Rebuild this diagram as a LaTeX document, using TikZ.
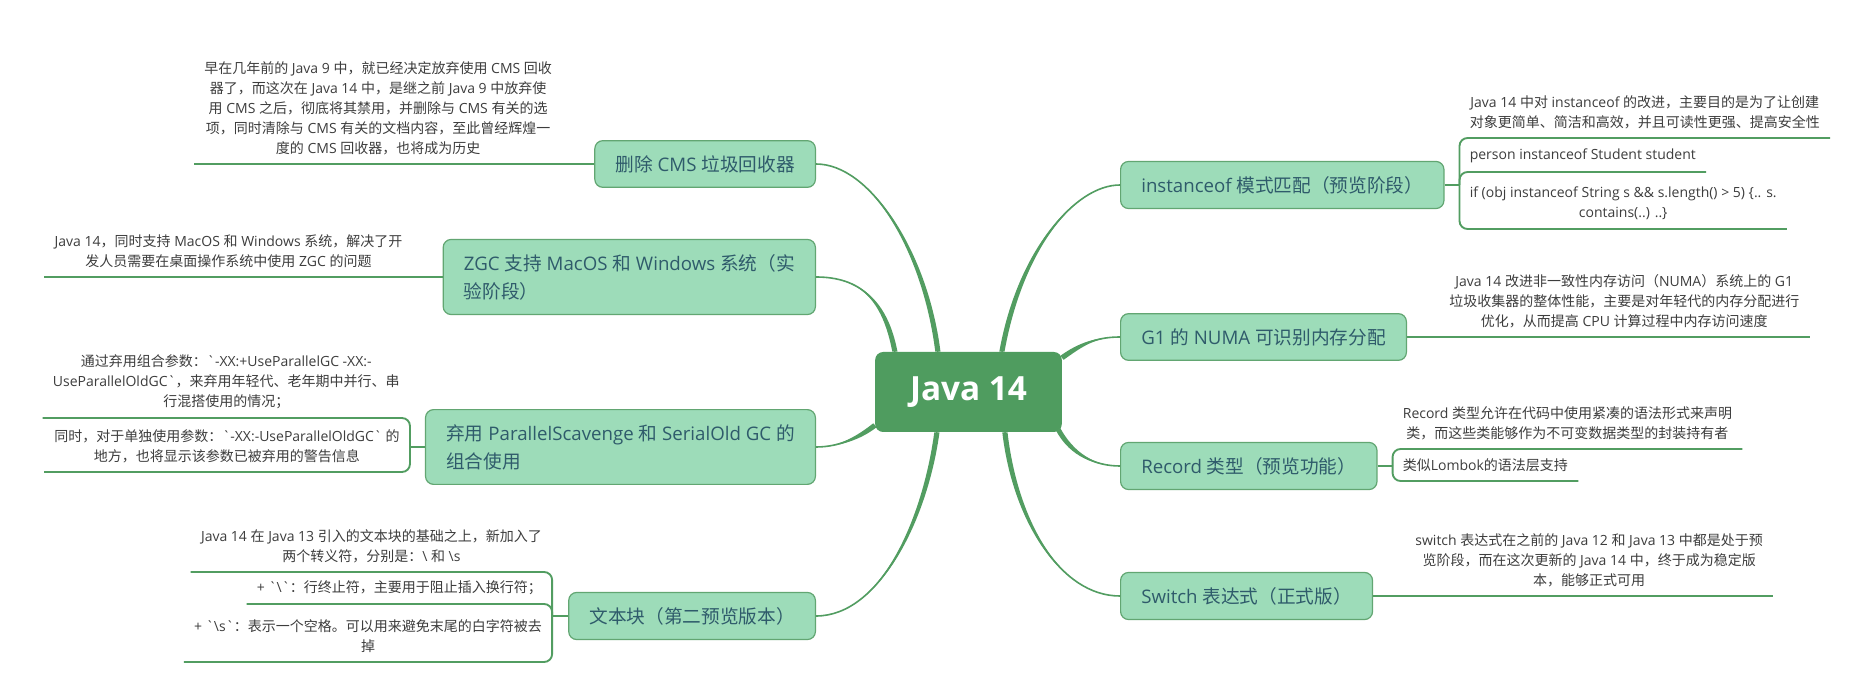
\documentclass[tikz,border=0pt]{standalone}
\usepackage{fontspec}
\setmainfont{Open Sans}
\newfontfamily\cjkfam{Noto Sans CJK SC}
\usetikzlibrary{calc}

% Chinese characters are set in the CJK font, the rest in Open Sans
\XeTeXinterchartokenstate=1
\newXeTeXintercharclass\cjkcls
\newcommand{\setcjkrange}[2]{%
  \count255=#1
  \loop
    \XeTeXcharclass\count255=\cjkcls
    \advance\count255 by 1
  \ifnum\count255<#2 \repeat}
\setcjkrange{"3000}{"3040}
\setcjkrange{"4E00}{"A000}
\setcjkrange{"FF00}{"FFF0}
\XeTeXinterchartoks 0 \cjkcls = {\cjkfam}
\XeTeXinterchartoks 4095 \cjkcls = {\cjkfam}
\XeTeXinterchartoks \cjkcls 0 = {\rmfamily}
\XeTeXinterchartoks \cjkcls 4095 = {\rmfamily}

\definecolor{rootgreen}{HTML}{4F9C5F}
\definecolor{branchgreen}{HTML}{529D61}
\definecolor{topicfill}{HTML}{9DDCB9}
\definecolor{topicline}{HTML}{62A672}
\definecolor{topictext}{HTML}{2F5B6B}
\definecolor{subtext}{HTML}{3D3D3D}

% tapered main branch: start, control 1, control 2, end, half width at start
\newcommand{\branch}[5]{%
  \fill[branch] ($#1-#5$) .. controls ($#2-#5$) and #3 .. #4
    .. controls #3 and ($#2+#5$) .. ($#1+#5$) -- cycle;
  \draw[branch line] ($#1$) .. controls #2 and #3 .. #4;}

\begin{document}
\begin{tikzpicture}[x=0.75pt, y=-0.75pt,
  root/.style = {fill=rootgreen, rounded corners=6pt, text=white,
    minimum width=140pt, minimum height=60pt,
    font=\fontsize{25}{30}\selectfont\bfseries},
  topic/.style = {draw=topicline, fill=topicfill, rounded corners=6pt,
    line width=0.9pt, text=topictext, align=left,
    inner xsep=15.5pt, inner ysep=11pt, font=\fontsize{14}{21}\selectfont},
  sub/.style = {text=subtext, align=center, inner xsep=7.5pt,
    inner ysep=6.5pt, font=\fontsize{10.5}{15}\selectfont},
  sub line/.style = {draw=branchgreen, line width=1.4pt, rounded corners=6pt},
  branch/.style = {fill=branchgreen},
  branch line/.style = {draw=branchgreen, line width=1.2pt}]

  \fill[white] (0,0) rectangle (1861,691);

  \node[root] (root) at (968.5,392) {Java 14};

  % left topics
  \node[topic, anchor=east] (cms) at (816,164) {删除 CMS 垃圾回收器};
  \node[topic, anchor=east] (zgc) at (816,277)
    {ZGC 支持 MacOS 和 Windows 系统（实\\验阶段）};
  \node[topic, anchor=east] (par) at (816,447)
    {弃用 ParallelScavenge 和 SerialOld GC 的\\组合使用};
  \node[topic, anchor=east] (txt) at (816,616) {文本块（第二预览版本）};

  % right topics
  \node[topic, anchor=west] (ins) at (1120,185) {instanceof 模式匹配（预览阶段）};
  \node[topic, anchor=west] (g1) at (1120,337) {G1 的 NUMA 可识别内存分配};
  \node[topic, anchor=west] (rec) at (1120,466) {Record 类型（预览功能）};
  \node[topic, anchor=west] (sw) at (1120,596) {Switch 表达式（正式版）};

  \branch{(root.north west)+(63,0)}{(925,250)}{(870,164)}{(cms.east)}{(2.6,0)}
  \branch{(root.north west)+(20,0)}{(885,300)}{(860,277)}{(zgc.east)}{(2.6,0)}
  \branch{(root.south west)+(0,-7)}{(860,437)}{(840,447)}{(par.east)}{(1.6,2)}
  \branch{(root.south west)+(62,0)}{(925,520)}{(880,616)}{(txt.east)}{(2.6,0)}
  \branch{(root.north west)+(127,0)}{(1020,250)}{(1075,185)}{(ins.west)}{(2.6,0)}
  \branch{(root.north east)+(0,6)}{(1080,345)}{(1095,337)}{(g1.west)}{(1.5,2.1)}
  \branch{(root.south east)+(-4,-3)}{(1072,455)}{(1095,466)}{(rec.west)}{(1.8,-1.8)}
  \branch{(root.south west)+(130,0)}{(1015,520)}{(1060,596)}{(sw.west)}{(2.6,0)}

  % notes on the left
  \node[sub, anchor=south east] (cms1) at ($(cms.west)+(-32,0)$)
    {早在几年前的 Java 9 中，就已经决定放弃使用 CMS 回收\\器了，而这次在 Java 14 中，是继之前 Java 9 中放弃使\\用 CMS 之后，彻底将其禁用，并删除与 CMS 有关的选\\项，同时清除与 CMS 有关的文档内容，至此曾经辉煌一\\度的 CMS 回收器，也将成为历史};
  \draw[sub line] (cms.west) -- (cms1.south west);

  \node[sub, anchor=south east] (zgc1) at ($(zgc.west)+(-30,0)$)
    {Java 14，同时支持 MacOS 和 Windows 系统，解决了开\\发人员需要在桌面操作系统中使用 ZGC 的问题};
  \draw[sub line] (zgc.west) -- (zgc1.south west);

  \coordinate (parj) at ($(par.west)+(-15,0)$);
  \node[sub, anchor=south east] (par1) at ($(parj)+(0,-29)$)
    {通过弃用组合参数：\textasciigrave-XX:+UseParallelGC -XX:-\\UseParallelOldGC\textasciigrave，来弃用年轻代、老年期中并行、串\\行混搭使用的情况；};
  \node[sub, anchor=south east] (par2) at ($(parj)+(0,25)$)
    {同时，对于单独使用参数：\textasciigrave-XX:-UseParallelOldGC\textasciigrave{} 的\\地方，也将显示该参数已被弃用的警告信息};
  \draw[sub line] (par.west) -- (parj);
  \draw[sub line] (parj) |- (par1.south west);
  \draw[sub line] (parj) |- (par2.south west);

  \coordinate (txtj) at ($(txt.west)+(-16,0)$);
  \node[sub, anchor=south east] (txt1) at ($(txtj)+(0,-44)$)
    {Java 14 在 Java 13 引入的文本块的基础之上，新加入了\\两个转义符，分别是：\textbackslash{} 和 \textbackslash s};
  \node[sub, anchor=south east] (txt2) at ($(txtj)+(0,-12)$)
    {+ \textasciigrave\textbackslash\textasciigrave：行终止符，主要用于阻止插入换行符；};
  \node[sub, anchor=south east] (txt3) at ($(txtj)+(0,46)$)
    {+ \textasciigrave\textbackslash s\textasciigrave：表示一个空格。可以用来避免末尾的白字符被去\\掉};
  \draw[sub line] (txt.west) -- (txtj);
  \draw[sub line] (txtj) |- (txt1.south west);
  \draw[sub line] (txtj) |- (txt2.south west);
  \draw[sub line] (txtj) |- (txt3.south west);

  % notes on the right
  \coordinate (insj) at ($(ins.east)+(15,0)$);
  \node[sub, anchor=south west] (ins1) at ($(insj)+(0,-47)$)
    {Java 14 中对 instanceof 的改进，主要目的是为了让创建\\对象更简单、简洁和高效，并且可读性更强、提高安全性};
  \node[sub, anchor=south west] (ins2) at ($(insj)+(0,-13)$)
    {person instanceof Student student};
  \node[sub, anchor=south west] (ins3) at ($(insj)+(0,44)$)
    {if (obj instanceof String s \&\& s.length() > 5) \{.. s.\\contains(..) ..\}};
  \draw[sub line] (ins.east) -- (insj);
  \draw[sub line] (insj) |- (ins1.south east);
  \draw[sub line] (insj) |- (ins2.south east);
  \draw[sub line] (insj) |- (ins3.south east);

  \node[sub, anchor=south west] (g1n) at ($(g1.east)+(32,0)$)
    {Java 14 改进非一致性内存访问（NUMA）系统上的 G1\\垃圾收集器的整体性能，主要是对年轻代的内存分配进行\\优化，从而提高 CPU 计算过程中内存访问速度};
  \draw[sub line] (g1.east) -- (g1n.south east);

  \coordinate (recj) at ($(rec.east)+(15,0)$);
  \node[sub, anchor=south west] (rec1) at ($(recj)+(0,-17)$)
    {Record 类型允许在代码中使用紧凑的语法形式来声明\\类，而这些类能够作为不可变数据类型的封装持有者};
  \node[sub, anchor=south west] (rec2) at ($(recj)+(0,15)$)
    {类似Lombok的语法层支持};
  \draw[sub line] (rec.east) -- (recj);
  \draw[sub line] (recj) |- (rec1.south east);
  \draw[sub line] (recj) |- (rec2.south east);

  \node[sub, anchor=south west] (swn) at ($(sw.east)+(32,0)$)
    {switch 表达式在之前的 Java 12 和 Java 13 中都是处于预\\览阶段，而在这次更新的 Java 14 中，终于成为稳定版\\本，能够正式可用};
  \draw[sub line] (sw.east) -- (swn.south east);
\end{tikzpicture}
\end{document}
